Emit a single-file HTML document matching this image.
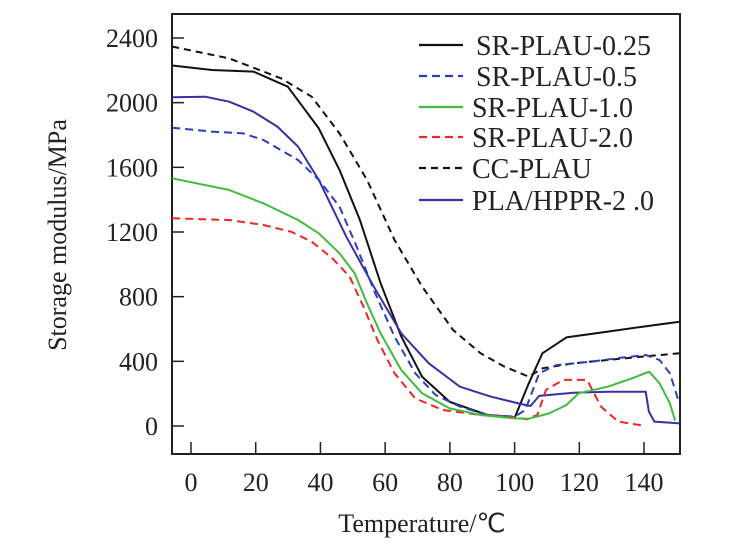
<!DOCTYPE html>
<html><head><meta charset="utf-8"><style>
html,body{margin:0;padding:0;background:#fff;width:742px;height:549px;overflow:hidden}
svg{display:block}
text{font-family:"Liberation Serif",serif;fill:#222}
</style></head><body>
<svg id="chart" width="742" height="549" viewBox="0 0 742 549" xmlns="http://www.w3.org/2000/svg"></svg>
<script>
const xTicks=[0,20,40,60,80,100,120,140];
const yTicks=[0,400,800,1200,1600,2000,2400];
const seriesNames=["SR-PLAU-0.25","SR-PLAU-0.5","SR-PLAU-1.0","SR-PLAU-2.0","CC-PLAU","PLA/HPPR-2 .0"];
const s025=[[-5.8,2230],[6.5,2202],[19.3,2192],[29.9,2099],[39.5,1841],[45.9,1584],[52.2,1274],[58.6,883],[65,553],[71.4,305],[79.9,150],[91.6,68],[100.1,54],[104.4,264],[108.6,450],[116,548],[128.8,584],[139.5,614],[151,645]];
const s05=[[-5.8,1845],[6.5,1821],[16.1,1810],[22.4,1769],[33.1,1645],[39.5,1522],[45.9,1357],[51.2,1109],[56.5,841],[62.9,553],[69.3,326],[75.6,192],[83.1,120],[91.6,68],[100.1,58],[103.3,99],[107.6,326],[112.9,377],[123.5,398],[134.1,425],[140.5,439],[144.8,408],[148,326],[150.6,161]];
const s10=[[-5.8,1532],[11.8,1460],[22.4,1377],[33.1,1274],[39.5,1192],[45.9,1068],[50.6,944],[54.4,759],[58.6,573],[65,346],[71.4,202],[79.9,109],[89.5,68],[100.1,47],[104.4,45],[110.7,78],[116,130],[119.8,202],[128.8,243],[136.3,295],[141.6,336],[144.8,264],[148,140],[149.6,33]];
const s20=[[-5.8,1285],[11.8,1274],[22.4,1243],[30.9,1202],[37.3,1140],[43.7,1037],[49,924],[53.3,738],[57.6,532],[62.9,326],[69.3,171],[77.8,99],[89.5,68],[100.1,54],[103.8,41],[107,68],[109.7,223],[115,285],[122.4,285],[126.7,120],[132,27],[140.5,0]];
const sCC=[[-5.8,2347],[11.8,2274],[27.8,2151],[37.3,2037],[45.9,1810],[54.4,1522],[62.9,1151],[71.4,862],[81,594],[89.5,450],[96.9,367],[104.4,305],[108.6,357],[118.2,388],[128.8,408],[139.5,429],[151,450]];
const sHP=[[-5.8,2033],[4.4,2037],[11.8,2006],[19.3,1944],[26.7,1852],[33.1,1728],[39.5,1522],[48,1171],[56.5,862],[65,573],[73.5,388],[83.1,243],[92.7,181],[103.3,130],[104.9,124],[107.6,186],[118.2,206],[128.8,212],[140.5,212],[141.5,89],[143.2,27],[151,16]];

const NS="http://www.w3.org/2000/svg";
const svg=document.getElementById('chart');
const L=172,R=680,T=14,B=454;
function xs(v){return 191+v*3.236;}
function ys(v){return 426-v*388/2400;}
function mk(tag,attrs,parent){const e=document.createElementNS(NS,tag);for(const k in attrs)e.setAttribute(k,attrs[k]);(parent||svg).appendChild(e);return e;}

const frame=mk('rect',{x:L,y:T,width:R-L,height:B-T,fill:'none',stroke:'#222','stroke-width':2});



xTicks.forEach(v=>{
  const t=mk('line',{x1:xs(v),x2:xs(v),y1:B,y2:B-12,stroke:'#222','stroke-width':1.5});
  
  
  const l=mk('text',{x:xs(v),y:491,'text-anchor':'middle','font-size':26});
  l.textContent=v;
  
  
});
yTicks.forEach(v=>{
  const t=mk('line',{x1:L,x2:L+12,y1:ys(v),y2:ys(v),stroke:'#222','stroke-width':1.5});
  
  
  const l=mk('text',{x:158,y:ys(v)+9,'text-anchor':'end','font-size':26});
  l.textContent=v;
  
  
});
const xt=mk('text',{x:422,y:532,'text-anchor':'middle','font-size':26});
xt.textContent='Temperature/℃';


const yt=mk('text',{x:0,y:0,'text-anchor':'middle','font-size':26,transform:'translate(66,235) rotate(-90)'});
yt.textContent='Storage modulus/MPa';



const allData=[s025,s05,s10,s20,sCC,sHP];
const colors=['#111','#2b3fbd','#3fbb3f','#ee2626','#111','#3a30a2'];
const dashes=['none','8,5','none','8,5','7,5','none'];
const order=[4,0,5,1,3,2];
order.forEach(i=>{
  const d=allData[i].map((p,j)=>(j?'L':'M')+xs(p[0]).toFixed(1)+','+ys(p[1]).toFixed(1)).join(' ');
  const p=mk('path',{d:d,fill:'none',stroke:colors[i],'stroke-width':2,'stroke-dasharray':dashes[i],'stroke-linejoin':'round'});
  
  
});

const rowsY=[45,76,107,137,168,200];
seriesNames.forEach((n,i)=>{
  const g=mk('g',{});
  
  
  mk('line',{x1:419,x2:463,y1:rowsY[i],y2:rowsY[i],stroke:colors[i],'stroke-width':2.2,'stroke-dasharray':dashes[i]},g);
  const t=mk('text',{x:i==0||i==1?476:472,y:rowsY[i]+10,'font-size':28},g);
  t.textContent=n;
});
</script>
</body></html>
